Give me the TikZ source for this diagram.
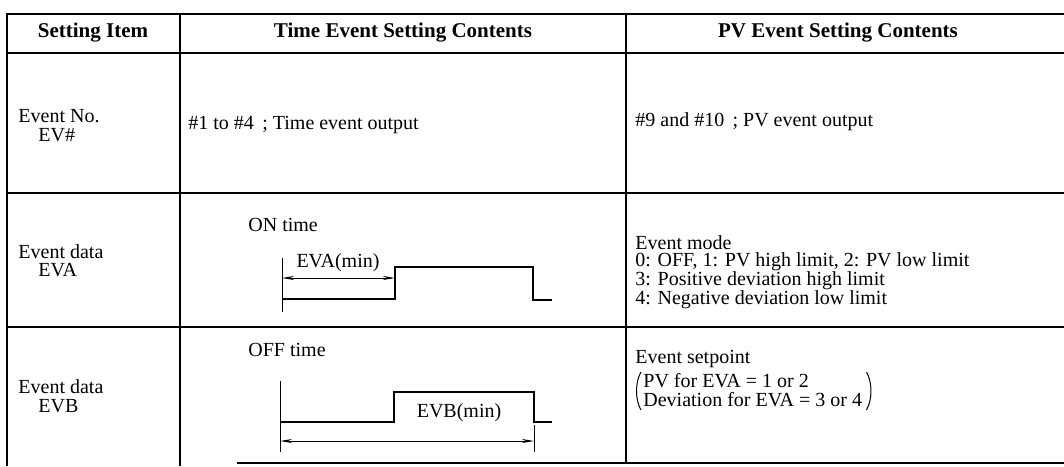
\documentclass[tikz,border=0pt]{standalone}
\usepackage{fontspec}
\setmainfont{Liberation Serif}
\usetikzlibrary{arrows.meta}
\begin{document}
\begin{tikzpicture}[x=0.5pt,y=-0.5pt,
  outer/.style={line width=1.4pt},
  inner/.style={line width=0.7pt},
  wave/.style={line width=1.1pt, line join=miter},
  tick/.style={line width=0.45pt},
  paren/.style={line width=0.5pt},
  dim/.style={line width=0.5pt, {Stealth[length=6pt,width=2pt]}-{Stealth[length=6pt,width=2pt]}},
  body/.style={font=\fontsize{10}{9.5}\selectfont, inner sep=0pt, anchor=west},
  head/.style={font=\fontsize{10.5}{12}\selectfont\bfseries, inner sep=0pt},
]
\useasboundingbox (0,0) rectangle (1064,466);

% table frame and rules
\draw[outer] (7,466) -- (7,14) -- (1064,14);
\draw[inner] (180,14) -- (180,466);
\draw[inner] (626,14) -- (626,463);
\draw[inner, line width=1pt] (7,53) -- (1064,53);
\draw[inner] (7,193) -- (1064,193);
\draw[inner] (7,327) -- (1064,327);
\draw[outer] (237,463) -- (1064,463);

% header row
\node[head] (h1) at (93,33) {Setting Item};
\node[head] (h2) at (403,33) {Time Event Setting Contents};
\node[head] (h3) at (838,33) {PV Event Setting Contents};

% first column
\node[body] (c1a) at (18,116) {Event No.};
\node[body] (c1b) at (38,135) {EV\#};
\node[body] (c2a) at (18,252) {Event data};
\node[body] (c2b) at (38,270) {EVA};
\node[body] (c3a) at (18,387) {Event data};
\node[body] (c3b) at (38,406) {EVB};

% time event column
\node[body] (t1) at (188,125) {\#1 to \#4 \,; Time event output};
\node[body] (t2) at (248,225) {ON time};
\node[body] (t3) at (248,350) {OFF time};

% ON time waveform
\coordinate (aL) at (282,278);
\coordinate (aR) at (395,278);
\draw[tick] (282,258) -- (282,312);
\draw[wave] (282,299) -- (395,299) -- (395,267) -- (533,267) -- (533,300) -- (552,300);
\draw[dim] (aL) -- (aR);
\node[body, anchor=center] (eva) at (338,263) {EVA(min)};

% OFF time waveform
\coordinate (bL) at (280,441);
\coordinate (bR) at (534,441);
\draw[tick] (280,381) -- (280,452);
\draw[wave] (280,422) -- (394,422) -- (394,392) -- (534,392) -- (534,422) -- (552,422);
\draw[tick] (534,425) -- (534,452);
\draw[dim] (bL) -- (bR);
\node[body, anchor=center] (evb) at (459,413) {EVB(min)};

% PV event column
\node[body] (p1) at (635,122) {\#9 and \#10 \,; PV event output};
\node[body] (p2) at (635,243) {Event mode};
\node[body] (p3) at (635,262) {0: OFF, 1: PV high limit, 2: PV low limit};
\node[body] (p4) at (635,281) {3: Positive deviation high limit};
\node[body] (p5) at (635,300) {4: Negative deviation low limit};
\node[body] (p6) at (635,359) {Event setpoint};
\node[body] (sp1) at (643,381) {PV for EVA = 1 or 2};
\node[body] (sp2) at (643,400) {Deviation for EVA = 3 or 4};

% large parentheses round the two setpoint lines
\coordinate (lpt) at (641,372);
\coordinate (lpb) at (641,410);
\draw[paren] (lpt) .. controls +(-6,10) and +(-6,-10) .. (lpb);
\path (sp2.east) ++(4,-28) coordinate (rpt) ++(0,38) coordinate (rpb);
\draw[paren] (rpt) .. controls +(6,10) and +(6,-10) .. (rpb);
\end{tikzpicture}
\end{document}
